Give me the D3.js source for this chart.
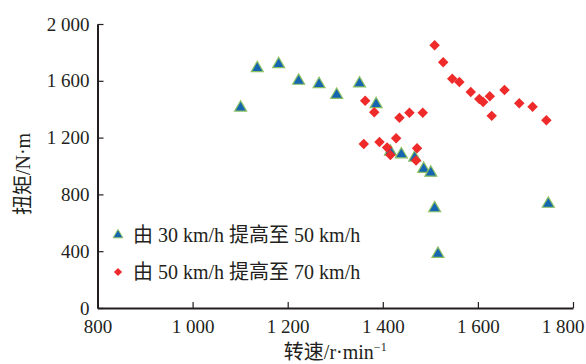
<!DOCTYPE html>
<html>
<head>
<meta charset="utf-8">
<script src="https://cdn.jsdelivr.net/npm/d3@7"></script>
<style>
  body { margin: 0; background: #fff; }
  text { font-family: "Liberation Serif", "Noto Sans CJK SC", serif; fill: #231f20; }
</style>
</head>
<body>
<div id="chart"></div>
<script>
// data
const speed30to50  = [1101, 1136, 1181, 1223, 1266, 1303, 1351, 1386, 1416, 1439, 1467, 1486, 1501, 1509, 1516, 1748];
const torque30to50 = [1411, 1689, 1717, 1600, 1576, 1501, 1581, 1435, 1101, 1082, 1059, 979, 953, 702, 381, 734];

const speed50to70  = [1363, 1382, 1435, 1456, 1484,
                      1360, 1393, 1409, 1416, 1428, 1472, 1470,
                      1509, 1527, 1546, 1561, 1585, 1603, 1611, 1625, 1629, 1656, 1687, 1715, 1744];
const torque50to70 = [1459, 1379, 1339, 1375, 1375,
                      1155, 1169, 1131, 1078, 1195, 1125, 1039,
                      1850, 1730, 1614, 1591, 1521, 1471, 1450, 1491, 1353, 1536, 1442, 1418, 1323];

const xTicks = [800, 1000, 1200, 1400, 1600, 1800];
const yTicks = [0, 400, 800, 1200, 1600, 2000];
const seriesNames = ["由 30 km/h 提高至 50 km/h", "由 50 km/h 提高至 70 km/h"];

const W = 586, H = 364;
const margin = {top: 24, right: 13, bottom: 56, left: 97.5};
const width = W - margin.left - margin.right,
      height = H - margin.top - margin.bottom;

const svg = d3.select("#chart").append("svg")
    .attr("width", W)
    .attr("height", H);

const g = svg.append("g")
    .attr("transform", `translate(${margin.left},${margin.top})`);

const x = d3.scaleLinear().domain([800, 1800]).range([0, width]);
const y = d3.scaleLinear().domain([0, 2000]).range([height, 0]);

const fmt = d3.formatLocale({decimal: ".", thousands: "\u2009", grouping: [3], currency: ["", ""]}).format(",");
const spaced = d => fmt(d).replace(/\u2009/g, " ");

// axes, ticks pointing inward
const xAxis = g.append("g")
    .attr("transform", `translate(0,${height})`)
    .call(d3.axisBottom(x).tickValues(xTicks).tickSizeInner(-6).tickSizeOuter(0).tickPadding(12).tickFormat(spaced));
const yAxis = g.append("g")
    .call(d3.axisLeft(y).tickValues(yTicks).tickSizeInner(-6).tickSizeOuter(0).tickPadding(8).tickFormat(spaced));

[xAxis, yAxis].forEach(a => {
    a.select(".domain").attr("stroke", "#231f20").attr("stroke-width", 2);
    a.selectAll(".tick line").attr("stroke", "#231f20").attr("stroke-width", 1.2);
    a.selectAll(".tick text").attr("font-size", 19).attr("fill", "#231f20")
        .style("font-family", "'Liberation Serif', serif");
});
// last x label is pulled in so it stays on the page
xAxis.selectAll(".tick text").filter(d => d === 1800)
    .attr("text-anchor", "end").attr("x", 11);

const tri = d3.symbol().type(d3.symbolTriangle).size(62);
const dia = d3.symbol().type(d3.symbolSquare).size(55);

g.selectAll(".tri")
    .data(speed30to50.map((s, i) => [s, torque30to50[i]]))
    .enter().append("path")
    .attr("class", "tri")
    .attr("d", tri)
    .attr("transform", d => `translate(${x(d[0])},${y(d[1])})`)
    .attr("fill", "#1565b0")
    .attr("stroke", "#8cc063")
    .attr("stroke-width", 1.2);

g.selectAll(".dia")
    .data(speed50to70.map((s, i) => [s, torque50to70[i]]))
    .enter().append("path")
    .attr("class", "dia")
    .attr("d", dia)
    .attr("transform", d => `translate(${x(d[0])},${y(d[1])}) rotate(45)`)
    .attr("fill", "#ee2a2a");

// legend
const legend = svg.append("g").attr("transform", "translate(118,235)");
legend.append("path")
    .attr("d", d3.symbol().type(d3.symbolTriangle).size(40))
    .attr("fill", "#1565b0").attr("stroke", "#8cc063").attr("stroke-width", 1);
legend.append("path")
    .attr("d", d3.symbol().type(d3.symbolSquare).size(34))
    .attr("transform", "translate(0,37) rotate(45)")
    .attr("fill", "#ee2a2a");
legend.selectAll("text.lab")
    .data(seriesNames)
    .enter().append("text")
    .attr("class", "lab")
    .attr("x", 15)
    .attr("y", (d, i) => i * 37 + 7)
    .attr("font-size", 20)
    .text(d => d);

// axis titles
svg.append("text")
    .attr("transform", `translate(30,174) rotate(-90)`)
    .attr("text-anchor", "middle")
    .attr("font-size", 20)
    .text("扭矩/N·m");

const xt = svg.append("text")
    .attr("x", margin.left + width / 2)
    .attr("y", 359)
    .attr("text-anchor", "middle")
    .attr("font-size", 20);
xt.append("tspan").text("转速/r·min");
xt.append("tspan").attr("font-size", 12).attr("dy", -8).text("−1");
</script>
</body>
</html>
